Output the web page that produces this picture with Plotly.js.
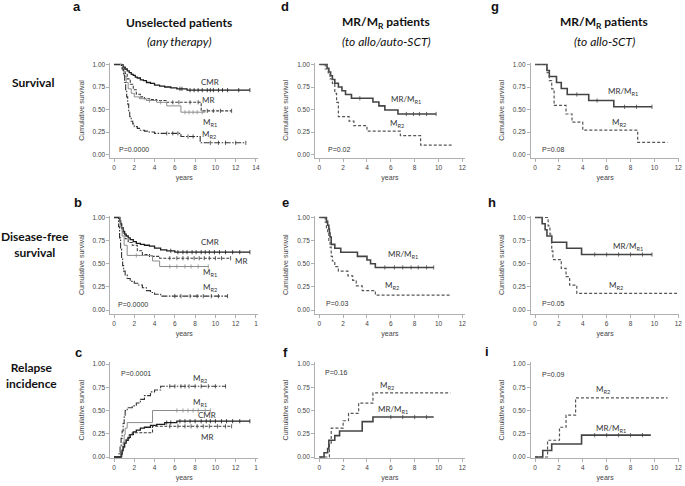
<!DOCTYPE html>
<html><head><meta charset="utf-8">
<script src="https://cdn.plot.ly/plotly-3.0.1.min.js"></script>
<style>html,body{margin:0;padding:0;background:#fff}#chart{width:685px;height:486px}</style>
</head><body><div id="chart"></div><script>
// ---------- DATA ----------
// Panel a: Survival, unselected patients
const a_CMR_t = [0.75,0.9,1.1,1.3,1.5,1.7,1.9,2.1,2.3,2.6,2.9,3.2,3.6,4.0,4.5,5.0,5.6,6.2,7.2];
const a_CMR_s = [0.99,0.97,0.95,0.93,0.91,0.89,0.88,0.86,0.85,0.83,0.82,0.80,0.79,0.77,0.76,0.75,0.74,0.73,0.715];
const a_CMR_end = 13.4;
const a_CMR_cens = [6.5,6.7,7.5,7.9,8.3,8.7,9.2,9.5,9.8,10.3,10.7,11.2,12.3,13.4];
const a_MR_t = [0.9,1.1,1.3,1.6,1.9,2.2,2.6,3.0,3.6,4.2,5.2,8.6];
const a_MR_s = [0.96,0.90,0.84,0.78,0.72,0.67,0.64,0.62,0.61,0.60,0.58,0.485];
const a_MR_end = 11.6;
const a_MR_cens = [5.8,6.4,7.5,8.3,9.2,9.8,10.5,11.6];
const a_MR1_t = [0.85,1.0,1.2,1.4,1.7,2.0,2.5,3.2,4.2,5.2,6.6];
const a_MR1_s = [0.93,0.87,0.80,0.73,0.68,0.64,0.62,0.60,0.58,0.54,0.47];
const a_MR1_end = 9.0;
const a_MR1_cens = [3.5,4.6,7.0,7.4,7.8,8.2,8.7];
const a_MR2_t = [0.8,0.95,1.05,1.15,1.25,1.35,1.45,1.55,1.7,1.85,2.0,2.3,2.6,3.0,3.4,4.0,6.6,8.5];
const a_MR2_s = [0.95,0.88,0.80,0.72,0.64,0.56,0.48,0.42,0.37,0.34,0.31,0.29,0.27,0.26,0.25,0.235,0.20,0.13];
const a_MR2_end = 13.0;
const a_MR2_cens = [5.2,5.8,6.3,7.3,7.8,9.5,10.3,11.0,12.0,13.0];

// Panel b: Disease-free survival, unselected patients
const b_CMR_t = [0.55,0.65,0.75,0.9,1.05,1.2,1.4,1.6,1.9,2.2,2.6,3.0,3.5,4.0,4.6,5.2,6.0];
const b_CMR_s = [0.97,0.93,0.89,0.85,0.82,0.80,0.78,0.76,0.74,0.72,0.71,0.70,0.69,0.67,0.65,0.64,0.625];
const b_CMR_end = 13.4;
const b_CMR_cens = [5.6,6.3,6.8,7.2,7.7,8.1,8.6,9.0,9.4,9.9,10.4,11.0,11.7,12.4,13.4];
const b_MR_t = [0.6,0.75,0.9,1.1,1.4,1.8,2.3,2.8,3.5,4.5];
const b_MR_s = [0.95,0.88,0.82,0.77,0.73,0.70,0.64,0.60,0.58,0.56];
const b_MR_end = 11.5;
const b_MR_cens = [5.5,6.2,6.8,7.3,7.9,8.4,8.9,9.4,10.0,10.6,11.5];
const b_MR1_t = [0.6,0.8,1.0,1.3,3.8,4.5];
const b_MR1_s = [0.90,0.80,0.70,0.59,0.53,0.47];
const b_MR1_end = 9.3;
const b_MR1_cens = [2.2,5.5,6.2,7.0,7.6,8.3,9.3];
const b_MR2_t = [0.45,0.55,0.65,0.75,0.85,0.95,1.1,1.3,1.6,2.0,2.4,2.8,3.2,3.6,4.0,4.6];
const b_MR2_s = [0.90,0.78,0.66,0.56,0.48,0.42,0.38,0.34,0.31,0.29,0.27,0.24,0.21,0.19,0.17,0.15];
const b_MR2_end = 11.2;
const b_MR2_cens = [6.0,6.6,7.5,8.2,8.8,9.6,10.3,11.2];

// Panel c: Relapse incidence, unselected patients
const c_MR2_t = [0.5,0.6,0.7,0.8,0.9,1.0,1.1,1.3,1.8,2.2,2.6,3.0,3.6,4.0,4.6];
const c_MR2_s = [0.05,0.12,0.20,0.28,0.36,0.43,0.50,0.53,0.55,0.58,0.62,0.66,0.70,0.72,0.76];
const c_MR2_end = 11.0;
const c_MR2_cens = [5.5,6.0,6.6,7.0,7.4,8.0,8.6,9.3,10.0,11.0];
const c_MR1_t = [0.8,0.9,1.0,1.1,1.3,3.8];
const c_MR1_s = [0.08,0.16,0.24,0.31,0.37,0.50];
const c_MR1_end = 9.5;
const c_MR1_cens = [6.2,6.8,7.3,7.8,8.3,9.0,9.5];
const c_CMR_t = [0.7,0.8,0.9,1.05,1.2,1.4,1.6,1.9,2.2,2.6,3.0,3.6,4.2,5.0,6.2];
const c_CMR_s = [0.03,0.07,0.11,0.15,0.18,0.21,0.24,0.27,0.29,0.31,0.32,0.34,0.35,0.37,0.385];
const c_CMR_end = 13.4;
const c_CMR_cens = [5.2,5.6,6.5,7.0,7.5,8.0,8.6,9.1,9.5,10.0,10.6,11.1,11.7,12.4,13.4];
const c_MR_t = [0.7,0.85,1.0,1.2,1.5,1.8,3.8];
const c_MR_s = [0.05,0.10,0.15,0.20,0.24,0.26,0.33];
const c_MR_end = 11.6;
const c_MR_cens = [5.5,6.3,7.0,7.6,8.2,8.8,9.4,10.2,11.0,11.6];

// Panel d: Survival, MR/MR patients to allo/auto-SCT
const d_MRMR1_t = [0.65,0.8,0.95,1.1,1.3,1.6,1.9,2.2,2.7,4.5,5.0,5.5,6.6];
const d_MRMR1_s = [0.958,0.917,0.875,0.833,0.792,0.75,0.708,0.667,0.625,0.583,0.54,0.495,0.45];
const d_MRMR1_end = 9.8;
const d_MRMR1_cens = [3.4,7.3,7.9,8.4,9.0,9.8];
const d_MR2_t = [0.5,0.75,0.9,1.1,1.3,1.45,1.6,2.5,2.9,4.0,6.8,8.5];
const d_MR2_s = [0.95,0.89,0.84,0.79,0.68,0.58,0.42,0.37,0.32,0.26,0.21,0.105];
const d_MR2_end = 11.1;
const d_MR2_cens = [];

// Panel e: Disease-free survival, MR/MR patients to allo/auto-SCT
const e_MRMR1_t = [0.6,0.7,0.8,0.85,0.9,1.0,1.3,1.8,3.2,4.0,4.3,4.7];
const e_MRMR1_s = [0.958,0.917,0.875,0.833,0.79,0.71,0.667,0.625,0.58,0.54,0.50,0.46];
const e_MRMR1_end = 9.6;
const e_MRMR1_cens = [5.5,6.3,7.0,7.7,8.3,9.0,9.6];
const e_MR2_t = [0.5,0.6,0.7,0.8,0.9,1.0,1.1,1.3,1.6,2.4,2.8,3.1,3.6,4.7];
const e_MR2_s = [0.95,0.89,0.84,0.74,0.68,0.58,0.53,0.47,0.42,0.37,0.32,0.26,0.21,0.16];
const e_MR2_end = 11.0;
const e_MR2_cens = [];

// Panel f: Relapse incidence, MR/MR patients to allo/auto-SCT
const f_MR2_t = [0.85,1.0,2.0,2.45,3.3,4.5];
const f_MR2_s = [0.15,0.31,0.39,0.47,0.58,0.69];
const f_MR2_end = 11.0;
const f_MR2_cens = [];
const f_MRMR1_t = [0.4,0.7,0.8,1.3,1.7,3.6,4.5];
const f_MRMR1_s = [0.045,0.09,0.18,0.23,0.28,0.38,0.43];
const f_MRMR1_end = 9.6;
const f_MRMR1_cens = [6.0,7.0,8.0,9.0];

// Panel g: Survival, MR/MR patients to allo-SCT
const g_MRMR1_t = [1.0,1.2,1.8,2.2,2.7,4.5,6.6];
const g_MRMR1_s = [0.933,0.867,0.80,0.733,0.667,0.60,0.53];
const g_MRMR1_end = 9.8;
const g_MRMR1_cens = [3.5,5.2,7.5,8.5,9.8];
const g_MR2_t = [1.0,1.2,1.4,1.6,2.6,3.1,4.0,8.6];
const g_MR2_s = [0.91,0.82,0.73,0.545,0.45,0.36,0.27,0.135];
const g_MR2_end = 11.1;
const g_MR2_cens = [];

// Panel h: Disease-free survival, MR/MR patients to allo-SCT
const h_MRMR1_t = [0.6,0.85,1.0,1.4,2.65,3.9];
const h_MRMR1_s = [0.933,0.867,0.80,0.733,0.667,0.60];
const h_MRMR1_end = 9.8;
const h_MRMR1_cens = [5.0,6.0,7.0,8.0,9.0,9.8];
const h_MR2_t = [1.1,1.25,1.4,1.5,2.2,2.6,2.9,3.5];
const h_MR2_s = [0.91,0.82,0.64,0.545,0.45,0.36,0.27,0.18];
const h_MR2_end = 11.9;
const h_MR2_cens = [];

// Panel i: Relapse incidence, MR/MR patients to allo-SCT
const i_MR2_t = [1.05,2.05,2.6,3.4];
const i_MR2_s = [0.18,0.32,0.45,0.635];
const i_MR2_end = 11.1;
const i_MR2_cens = [];
const i_MRMR1_t = [0.65,1.4,3.9];
const i_MRMR1_s = [0.07,0.14,0.235];
const i_MRMR1_end = 9.7;
const i_MRMR1_cens = [5.0,6.0,7.0,8.0,9.0];

// Tick labels
const yTickVals = [0, 0.25, 0.5, 0.75, 1];
const yTickText = ['0.00', '0.25', '0.50', '0.75', '1.00'];
const xTickVals14 = [0, 2, 4, 6, 8, 10, 12, 14];
const xTickTextA = ['0', '2', '4', '6', '8', '10', '12', '14'];
const xTickTextBC = ['0', '2', '4', '6', '8', '10', '12', '1'];
const xTickVals12 = [0, 2, 4, 6, 8, 10, 12];
const xTickText12 = ['0', '2', '4', '6', '8', '10', '12'];

// Texts
const rowHeaders = ['Survival', 'Disease-free<br>survival', 'Relapse<br>incidence'];
const colTitles = ['Unselected patients', 'MR/M<sub>R</sub> patients', 'MR/M<sub>R</sub> patients'];
const colSubtitles = ['(any therapy)', '(to allo/auto-SCT)', '(to allo-SCT)'];
const pValues = ['P=0.0000','P=0.0000','P=0.0001','P=0.02','P=0.03','P=0.16','P=0.08','P=0.05','P=0.09'];

// ---------- LAYOUT GEOMETRY ----------
const W = 685, H = 486;
const cols = [
  {x0: 114, ppu: 10.14, r: [-0.35, 14.2]},
  {x0: 319.3, ppu: 11.92, r: [-0.35, 12.2]},
  {x0: 535, ppu: 11.94, r: [-0.35, 12.1]}
];
const rows = [
  {y1: 64.5, y0: 154.5, r: [-0.04, 1.02]},
  {y1: 217.5, y0: 310, r: [-0.04, 1.02]},
  {y1: 364, y0: 457, r: [-0.01, 1.02]}
];

const styles = {
  CMR:   {color: '#1c1c1c', width: 1.3, dash: 'solid'},
  MR:    {color: '#3a3a3a', width: 1.1, dash: '3px,1.5px'},
  MR1:   {color: '#8c8c8c', width: 1.0, dash: 'solid'},
  MR2:   {color: '#333333', width: 1.1, dash: '6px,1.5px,1.5px,1.5px'},
  MRMR1: {color: '#444444', width: 1.6, dash: 'solid'},
  MR2b:  {color: '#555555', width: 1.2, dash: '3px,2px'}
};

const panels = [
  {letter:'a', col:0, row:0, start:1, xt:[xTickVals14, xTickTextA], p:[0.25,0.055],
   series:[[a_CMR_t,a_CMR_s,a_CMR_end,a_CMR_cens,'CMR'],[a_MR_t,a_MR_s,a_MR_end,a_MR_cens,'MR'],
           [a_MR1_t,a_MR1_s,a_MR1_end,a_MR1_cens,'MR1'],[a_MR2_t,a_MR2_s,a_MR2_end,a_MR2_cens,'MR2']],
   labels:[['CMR',9.5,0.81],['MR',9.3,0.60],['M<sub>R1</sub>',9.5,0.36],['M<sub>R2</sub>',9.4,0.225]]},
  {letter:'b', col:0, row:1, start:1, xt:[xTickVals14, xTickTextBC], p:[0.15,0.06],
   series:[[b_CMR_t,b_CMR_s,b_CMR_end,b_CMR_cens,'CMR'],[b_MR_t,b_MR_s,b_MR_end,b_MR_cens,'MR'],
           [b_MR1_t,b_MR1_s,b_MR1_end,b_MR1_cens,'MR1'],[b_MR2_t,b_MR2_s,b_MR2_end,b_MR2_cens,'MR2']],
   labels:[['CMR',9.5,0.73],['MR',12.5,0.53],['M<sub>R1</sub>',9.5,0.40],['M<sub>R2</sub>',9.5,0.24]]},
  {letter:'c', col:0, row:2, start:0, xt:[xTickVals14, xTickTextBC], p:[0.45,0.90],
   series:[[c_MR2_t,c_MR2_s,c_MR2_end,c_MR2_cens,'MR2'],[c_MR1_t,c_MR1_s,c_MR1_end,c_MR1_cens,'MR1'],
           [c_CMR_t,c_CMR_s,c_CMR_end,c_CMR_cens,'CMR'],[c_MR_t,c_MR_s,c_MR_end,c_MR_cens,'MR']],
   labels:[['M<sub>R2</sub>',8.5,0.84],['M<sub>R1</sub>',8.5,0.59],['CMR',9.2,0.45],['MR',9.2,0.21]]},
  {letter:'d', col:1, row:0, start:1, xt:[xTickVals12, xTickText12], p:[0.6,0.055],
   series:[[d_MRMR1_t,d_MRMR1_s,d_MRMR1_end,d_MRMR1_cens,'MRMR1'],[d_MR2_t,d_MR2_s,d_MR2_end,d_MR2_cens,'MR2b']],
   labels:[['MR/M<sub>R1</sub>',7.3,0.61],['M<sub>R2</sub>',6.5,0.34]]},
  {letter:'e', col:1, row:1, start:1, xt:[xTickVals12, xTickText12], p:[0.4,0.07],
   series:[[e_MRMR1_t,e_MRMR1_s,e_MRMR1_end,e_MRMR1_cens,'MRMR1'],[e_MR2_t,e_MR2_s,e_MR2_end,e_MR2_cens,'MR2b']],
   labels:[['MR/M<sub>R1</sub>',7.05,0.60],['M<sub>R2</sub>',6.1,0.27]]},
  {letter:'f', col:1, row:2, start:0, xt:[xTickVals12, xTickText12], p:[0.35,0.91],
   series:[[f_MR2_t,f_MR2_s,f_MR2_end,f_MR2_cens,'MR2b'],[f_MRMR1_t,f_MRMR1_s,f_MRMR1_end,f_MRMR1_cens,'MRMR1']],
   labels:[['M<sub>R2</sub>',5.65,0.765],['MR/M<sub>R1</sub>',6.2,0.51]]},
  {letter:'g', col:2, row:0, start:1, xt:[xTickVals12, xTickText12], p:[0.4,0.055],
   series:[[g_MRMR1_t,g_MRMR1_s,g_MRMR1_end,g_MRMR1_cens,'MRMR1'],[g_MR2_t,g_MR2_s,g_MR2_end,g_MR2_cens,'MR2b']],
   labels:[['MR/M<sub>R1</sub>',7.4,0.70],['M<sub>R2</sub>',7.0,0.35]]},
  {letter:'h', col:2, row:1, start:1, xt:[xTickVals12, xTickText12], p:[0.4,0.067],
   series:[[h_MRMR1_t,h_MRMR1_s,h_MRMR1_end,h_MRMR1_cens,'MRMR1'],[h_MR2_t,h_MR2_s,h_MR2_end,h_MR2_cens,'MR2b']],
   labels:[['MR/M<sub>R1</sub>',7.8,0.69],['M<sub>R2</sub>',6.8,0.26]]},
  {letter:'i', col:2, row:2, start:0, xt:[xTickVals12, xTickText12], p:[0.4,0.89],
   series:[[i_MR2_t,i_MR2_s,i_MR2_end,i_MR2_cens,'MR2b'],[i_MRMR1_t,i_MRMR1_s,i_MRMR1_end,i_MRMR1_cens,'MRMR1']],
   labels:[['M<sub>R2</sub>',5.7,0.73],['MR/M<sub>R1</sub>',6.4,0.31]]}
];
const letterPos = {a:[77,7],b:[78,203],c:[78,352],d:[285,7],e:[285,203],f:[285,352],g:[495,7],h:[492,203],i:[487,351]};

// ---------- BUILD ----------
const traces = [];
const layout = {
  width: W, height: H, margin: {l:0, r:0, t:0, b:0},
  paper_bgcolor: '#fff', plot_bgcolor: '#fff', showlegend: false,
  font: {family: 'Liberation Sans, Arial, sans-serif', color: '#444'},
  annotations: []
};
const tickFont = {family: 'Liberation Sans, Arial, sans-serif', size: 6.5, color: '#444'};
const labelFont = {family: 'Lato, sans-serif', size: 8, color: '#333'};

function stepAt(t, s, start, x) {
  let v = start;
  for (let k = 0; k < t.length; k++) { if (t[k] <= x) v = s[k]; }
  return v;
}

panels.forEach((p, idx) => {
  const n = idx + 1;
  const xa = 'x' + (n === 1 ? '' : n), ya = 'y' + (n === 1 ? '' : n);
  const xk = 'xaxis' + (n === 1 ? '' : n), yk = 'yaxis' + (n === 1 ? '' : n);
  const C = cols[p.col], R = rows[p.row];
  const left = C.x0 + C.r[0] * C.ppu, right = C.x0 + C.r[1] * C.ppu;
  const ppuY = R.y0 - R.y1;
  const top = R.y0 - R.r[1] * ppuY, bottom = R.y0 - R.r[0] * ppuY;
  layout[xk] = {
    domain: [left / W, right / W], range: C.r, anchor: ya,
    showline: true, linecolor: '#b0b0b0', linewidth: 1, ticks: 'outside', ticklen: 3, tickcolor: '#b0b0b0',
    tickvals: p.xt[0], ticktext: p.xt[1], tickfont: tickFont, showgrid: false, zeroline: false,
    title: {text: 'years', font: {family: 'Liberation Sans, Arial, sans-serif', size: 7, color: '#444'}, standoff: 5}
  };
  layout[yk] = {
    domain: [1 - bottom / H, 1 - top / H], range: R.r, anchor: xa,
    showline: true, linecolor: '#b0b0b0', linewidth: 1, ticks: 'outside', ticklen: 3, tickcolor: '#b0b0b0',
    tickvals: yTickVals, ticktext: yTickText, tickfont: tickFont, showgrid: false, zeroline: false,
    title: {text: 'Cumulative survival', font: {family: 'Liberation Sans, Arial, sans-serif', size: 7, color: '#444'}, standoff: 7}
  };
  p.series.forEach(([t, s, end, cens, st]) => {
    const sty = styles[st];
    traces.push({
      type: 'scatter', mode: 'lines', xaxis: xa, yaxis: ya, hoverinfo: 'skip',
      x: [0].concat(t, [end]), y: [p.start].concat(s, [s[s.length - 1]]),
      line: {shape: 'hv', color: sty.color, width: sty.width, dash: sty.dash}
    });
    if (cens.length) {
      traces.push({
        type: 'scatter', mode: 'markers', xaxis: xa, yaxis: ya, hoverinfo: 'skip',
        x: cens, y: cens.map(c => stepAt(t, s, p.start, c)),
        marker: {symbol: 'line-ns', size: 3, line: {width: 0.8, color: sty.color}}
      });
    }
  });
  p.labels.forEach(([txt, x, y]) => {
    layout.annotations.push({xref: xa, yref: ya, x: x, y: y, text: txt, showarrow: false,
      font: labelFont, xanchor: 'center', yanchor: 'middle'});
  });
  layout.annotations.push({xref: xa, yref: ya, x: p.p[0], y: p.p[1], text: pValues[idx], showarrow: false,
    font: {family: 'Liberation Sans, Arial, sans-serif', size: 7, color: '#333'}, xanchor: 'left', yanchor: 'middle'});
  const lp = letterPos[p.letter];
  layout.annotations.push({xref: 'paper', yref: 'paper', x: lp[0] / W, y: 1 - lp[1] / H, text: '<b>' + p.letter + '</b>',
    showarrow: false, font: {family: 'Liberation Sans, Arial, sans-serif', size: 13, color: '#111'}, xanchor: 'center', yanchor: 'middle'});
});

const headerFont = {family: 'Lato, sans-serif', size: 12, color: '#111'};
const rowHeaderPos = [[33, 82], [35, 244], [32, 375]];
rowHeaders.forEach((t, k) => {
  layout.annotations.push({xref: 'paper', yref: 'paper', x: rowHeaderPos[k][0] / W, y: 1 - rowHeaderPos[k][1] / H,
    text: '<b>' + t + '</b>', showarrow: false, font: headerFont, align: 'center', xanchor: 'center', yanchor: 'middle'});
});
const colTitleX = [179, 386, 604];
colTitles.forEach((t, k) => {
  layout.annotations.push({xref: 'paper', yref: 'paper', x: colTitleX[k] / W, y: 1 - 23 / H,
    text: '<b>' + t + '</b>', showarrow: false, font: headerFont, xanchor: 'center', yanchor: 'middle'});
  layout.annotations.push({xref: 'paper', yref: 'paper', x: colTitleX[k] / W, y: 1 - 42 / H,
    text: '<i>' + colSubtitles[k] + '</i>', showarrow: false, font: {family: 'Lato, sans-serif', size: 12, color: '#111'},
    xanchor: 'center', yanchor: 'middle'});
});

Plotly.newPlot('chart', traces, layout, {staticPlot: true, displayModeBar: false});
</script></body></html>
